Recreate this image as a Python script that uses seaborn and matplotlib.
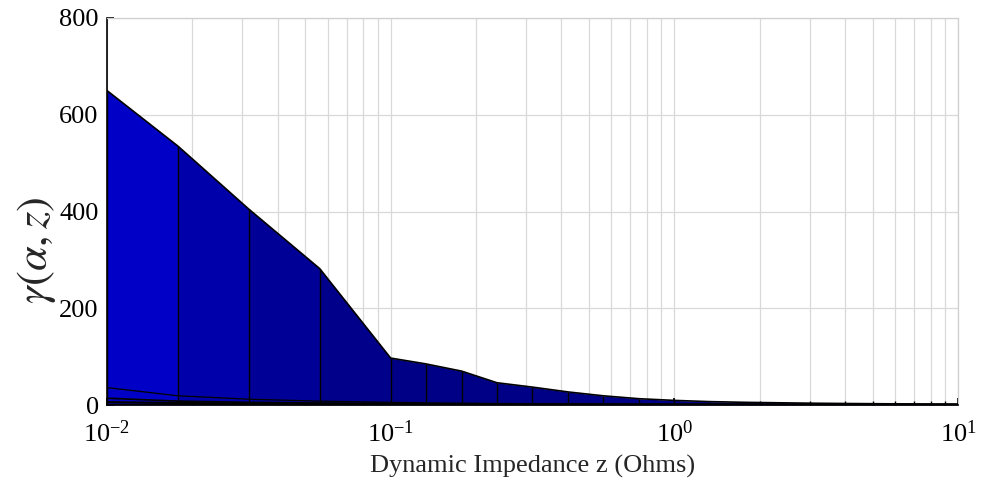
import numpy as np
import pandas as pd
import seaborn as sns
import matplotlib
matplotlib.use("Agg")
import matplotlib.pyplot as plt
from matplotlib.colors import LinearSegmentedColormap
from matplotlib.ticker import LogLocator, NullFormatter

# Dynamic impedance samples (Ohms)
z_ohms = [0.01, 0.0178, 0.0316, 0.0562, 0.1, 0.133, 0.178, 0.237, 0.316,
          0.422, 0.562, 0.750, 1.0, 1.33, 1.78, 2.37, 3.16, 4.22, 5.62,
          7.50, 10.0]

# gamma(alpha, z) for several alpha values (largest first)
gamma_a1 = [650, 535, 405, 282, 97, 85, 70, 46, 37, 27, 19, 13, 9.5, 7,
            5.5, 4.5, 3.6, 3.0, 2.5, 2.1, 1.8]
gamma_a2 = [36, 19, 12, 8, 5.5, 4.5, 3.8, 3.2, 2.7, 2.3, 2.0, 1.7, 1.5,
            1.3, 1.2, 1.1, 1.0, 0.9, 0.8, 0.8, 0.7]
gamma_a3 = [14, 8, 5.5, 4, 3, 2.5, 2.2, 1.9, 1.7, 1.5, 1.3, 1.2, 1.1, 1.0,
            0.9, 0.8, 0.8, 0.7, 0.7, 0.6, 0.6]
gamma_a4 = [6, 4, 3, 2.4, 2, 1.7, 1.5, 1.3, 1.2, 1.1, 1.0, 0.9, 0.8, 0.8,
            0.7, 0.7, 0.6, 0.6, 0.5, 0.5, 0.5]

x_ticks = [0.01, 0.1, 1, 10]
y_ticks = [0, 200, 400, 600, 800]

df = pd.DataFrame({"z": z_ohms, "a1": gamma_a1, "a2": gamma_a2,
                   "a3": gamma_a3, "a4": gamma_a4})

sns.set_theme(style="white")
plt.rcParams["font.family"] = ["Liberation Serif", "DejaVu Serif"]
plt.rcParams["mathtext.fontset"] = "stix"

fig = plt.figure(figsize=(9.81, 4.91), dpi=100)
ax = fig.add_axes([107 / 981, 1 - 405 / 491, (958 - 107) / 981, (405 - 18) / 491])

ax.set_xscale("log")
ax.set_xlim(0.01, 10)
ax.set_ylim(0, 800)

# grid behind the surface
ax.set_axisbelow(True)
ax.xaxis.set_minor_locator(LogLocator(base=10, subs=np.arange(2, 10)))
ax.xaxis.set_minor_formatter(NullFormatter())
ax.grid(True, which="both", axis="x", color="#d9d9d9", lw=0.9)
ax.grid(True, which="major", axis="y", color="#d9d9d9", lw=0.9)

# surface faces shaded by height
cmap = LinearSegmentedColormap.from_list("blues", [(0, 0, 0.53), (0, 0, 0.84)])
top = df["a1"].to_numpy()
zs = df["z"].to_numpy()
hmax = top.max()
for i in range(len(zs) - 1):
    h = 0.5 * (top[i] + top[i + 1])
    ax.fill_between(zs[i:i + 2], 0, top[i:i + 2], color=cmap((h / hmax) ** 2.5),
                    lw=0, zorder=2)

# mesh edges
ax.vlines(zs, 0, top, color="black", lw=1.0, zorder=3)
for col, lw in [("a1", 1.2), ("a2", 0.9), ("a3", 1.2), ("a4", 1.6)]:
    sns.lineplot(data=df, x="z", y=col, color="black", lw=lw, ax=ax,
                 zorder=4, estimator=None)
ax.plot(zs, np.zeros_like(zs), color="black", lw=2.5, zorder=4)

ax.set_xticks(x_ticks)
ax.set_yticks(y_ticks)
ax.tick_params(axis="both", which="both", direction="in", colors="black",
               labelsize=19, top=False, right=False)
ax.tick_params(axis="x", which="major", length=5, pad=11, bottom=True)
ax.tick_params(axis="x", which="minor", length=3, bottom=True)
ax.tick_params(axis="y", length=5, left=True, pad=6)

for side in ["left", "bottom"]:
    ax.spines[side].set_color("black")
    ax.spines[side].set_linewidth(1.2)
for side in ["top", "right"]:
    ax.spines[side].set_color("#cfcfcf")
    ax.spines[side].set_linewidth(0.9)

ax.set_xlabel("Dynamic Impedance z (Ohms)", fontsize=19, labelpad=6)
ax.set_ylabel(r"$\gamma(\alpha, z)$", fontsize=32)
ax.yaxis.set_label_coords(-0.058, 0.40)

fig.savefig("out.png", dpi=100)
